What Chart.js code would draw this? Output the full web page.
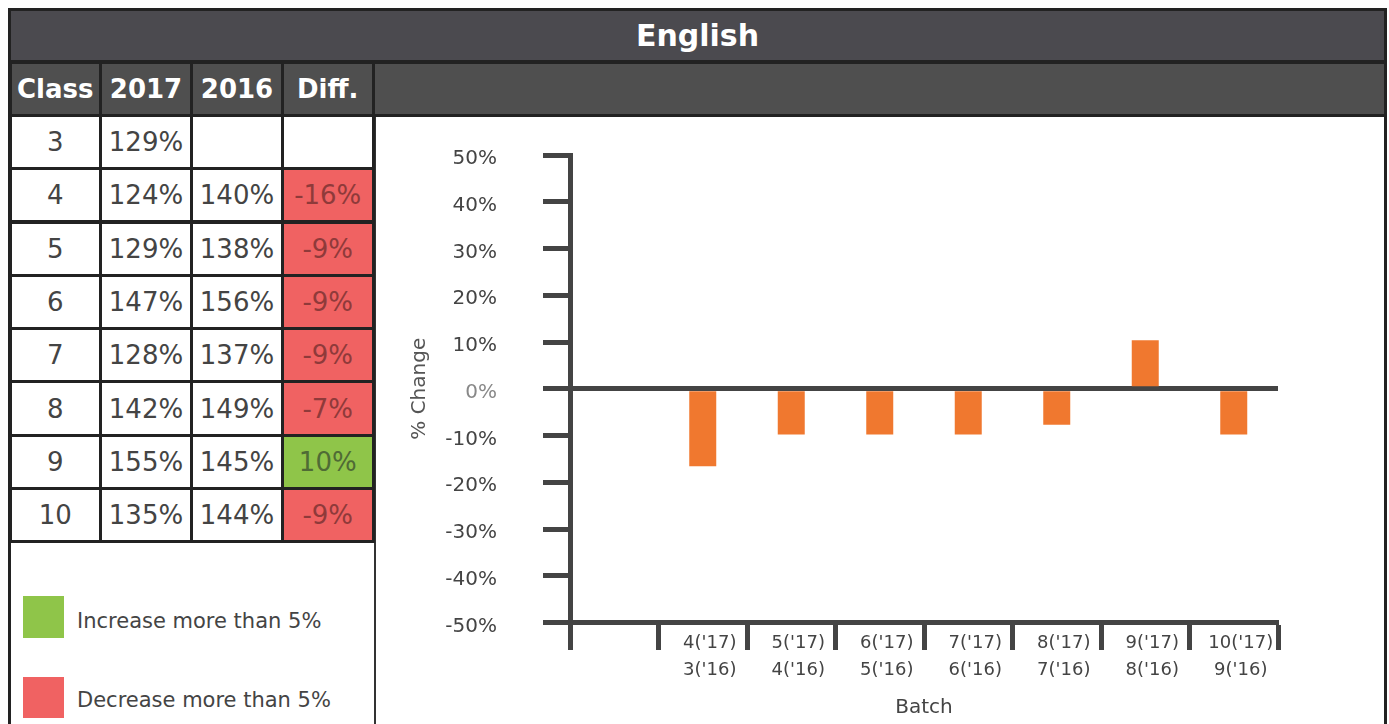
<!DOCTYPE html>
<html>
<head>
<meta charset="utf-8">
<script src="https://cdn.jsdelivr.net/npm/chart.js@4/dist/chart.umd.min.js"></script>
<style>
  html, body { margin: 0; padding: 0; background: #fff; overflow: hidden; }
  body { width: 1389px; height: 724px; position: relative; font-family: "DejaVu Sans", sans-serif; }
  .abs { position: absolute; box-sizing: border-box; }
  .cell { display: flex; align-items: center; justify-content: center; border: 3px solid #222; font-size: 26px; color: #444; }
  .head { background: #4f4f4f; color: #fff; font-weight: bold; }
  .legtxt { font-size: 21px; color: #444; line-height: 24px; }
</style>
</head>
<body>
<div class="abs" style="left:8px;top:8px;width:1379px;height:740px;border:3px solid #222;"></div>
<div class="abs" style="left:11px;top:11px;width:1373px;height:52px;background:#4b4a4f;border-bottom:3px solid #222;
  color:#fff;font-weight:bold;font-size:30px;display:flex;align-items:center;justify-content:center;">English</div>
<div class="abs" style="left:372px;top:61px;width:1012px;height:56px;background:#4f4f4f;border-top:3px solid #222;border-bottom:3px solid #222;"></div>
<div class="abs" style="left:374px;top:117px;width:2px;height:620px;background:#333;"></div>
<div id="table"></div>
<div class="abs" style="left:23px;top:596px;width:41px;height:42px;background:#8fc549;"></div>
<div class="abs legtxt" style="left:77px;top:609px;">Increase more than 5%</div>
<div class="abs" style="left:23px;top:677px;width:41px;height:41px;background:#f06262;"></div>
<div class="abs legtxt" style="left:77px;top:688px;">Decrease more than 5%</div>
<div class="abs" style="left:376px;top:117px;width:1006px;height:607px;">
  <canvas id="myChart"></canvas>
</div>
<script>
// table columns and rows
var headers = ["Class", "2017", "2016", "Diff."];
var classes = ["3", "4", "5", "6", "7", "8", "9", "10"];
var pct2017 = [129, 124, 129, 147, 128, 142, 155, 135];
var pct2016 = [null, 140, 138, 156, 137, 149, 145, 144];
var diffs = [null, -16, -9, -9, -9, -7, 10, -9];

// chart categories and values
var batches = ["", ["4('17)", "3('16)"], ["5('17)", "4('16)"], ["6('17)", "5('16)"],
  ["7('17)", "6('16)"], ["8('17)", "7('16)"], ["9('17)", "8('16)"], ["10('17)", "9('16)"]];
var batchChange = [null, -16.6, -9.8, -9.8, -9.8, -7.7, 10.4, -9.8];

// build the table
var colX = [10, 100.5, 191.5, 282.5, 373];
var rowY = [62, 115.5, 168.8, 222, 275.3, 328.6, 381.9, 435.2, 488.5, 541.8];
var table = document.getElementById("table");

function addCell(col, row, text, cls, bg, color) {
  var d = document.createElement("div");
  d.className = "abs cell " + (cls || "");
  d.style.left = (colX[col] - 1.5) + "px";
  d.style.top = (rowY[row] - 1.5) + "px";
  d.style.width = (colX[col + 1] - colX[col] + 3) + "px";
  d.style.height = (rowY[row + 1] - rowY[row] + 3) + "px";
  if (bg) d.style.background = bg;
  if (color) d.style.color = color;
  d.textContent = text;
  table.appendChild(d);
}

headers.forEach(function (h, i) { addCell(i, 0, h, "head"); });
classes.forEach(function (c, r) {
  var row = r + 1;
  addCell(0, row, c, "", "#fff");
  addCell(1, row, pct2017[r] + "%", "", "#fff");
  addCell(2, row, pct2016[r] == null ? "" : pct2016[r] + "%", "", "#fff");
  var d = diffs[r];
  if (d == null) addCell(3, row, "", "", "#fff");
  else if (d > 5) addCell(3, row, d + "%", "", "#8fc549", "#4f6b35");
  else if (d < -5) addCell(3, row, d + "%", "", "#f06262", "#8f3a3a");
  else addCell(3, row, d + "%", "", "#fff");
});

Chart.defaults.font.family = "'DejaVu Sans', sans-serif";

const data = {
  labels: batches,
  datasets: [
    {
      data: batchChange,
      backgroundColor: "#f0782f",
      barPercentage: 0.305,
      categoryPercentage: 1,
    },
  ],
};

const config = {
  type: "bar",
  data,
  options: {
    responsive: true,
    maintainAspectRatio: false,
    animation: false,
    devicePixelRatio: 1,
    layout: { padding: { left: 0, top: 38, right: 104, bottom: 0 } },
    plugins: { legend: { display: false }, tooltip: { enabled: false } },
    scales: {
      x: {
        z: 1,
        offset: true,
        border: { display: true, color: "#444", width: 5 },
        grid: { offset: true, drawOnChartArea: false, color: "#444", tickColor: "#444", tickWidth: 5, tickLength: 27.5 },
        ticks: { padding: -20.5, labelOffset: 7, autoSkip: false, maxRotation: 0, color: "#444", font: { size: 18, lineHeight: 1.5 } },
        title: { display: true, text: "Batch", color: "#444", font: { size: 20 }, padding: { top: 0, bottom: 4 } },
        afterFit: function (s) { s.height = 101.5; s.paddingLeft = 0; s.paddingRight = 0; },
      },
      y: {
        z: 1,
        min: -50,
        max: 50,
        border: { display: true, color: "#444", width: 5 },
        grid: {
          color: function (ctx) { return ctx.tick && ctx.tick.value === 0 ? "#444" : "rgba(0,0,0,0)"; },
          tickColor: "#444",
          lineWidth: 5,
          tickWidth: 5,
          tickLength: 27,
        },
        ticks: {
          stepSize: 10,
          padding: 46,
          labelOffset: 4,
          color: function (ctx) { return ctx.tick.value === 0 ? "#888" : "#444"; },
          font: { size: 20 },
          callback: function (v) { return v + "%"; },
        },
        title: { display: true, text: "% Change", color: "#555", font: { size: 20 }, padding: { top: 32, bottom: 0 } },
        afterFit: function (s) { s.width = 194; s.paddingTop = 0; s.paddingBottom = 0; },
      },
    },
  },
};

const myChart = new Chart(document.getElementById("myChart"), config);
</script>
</body>
</html>
